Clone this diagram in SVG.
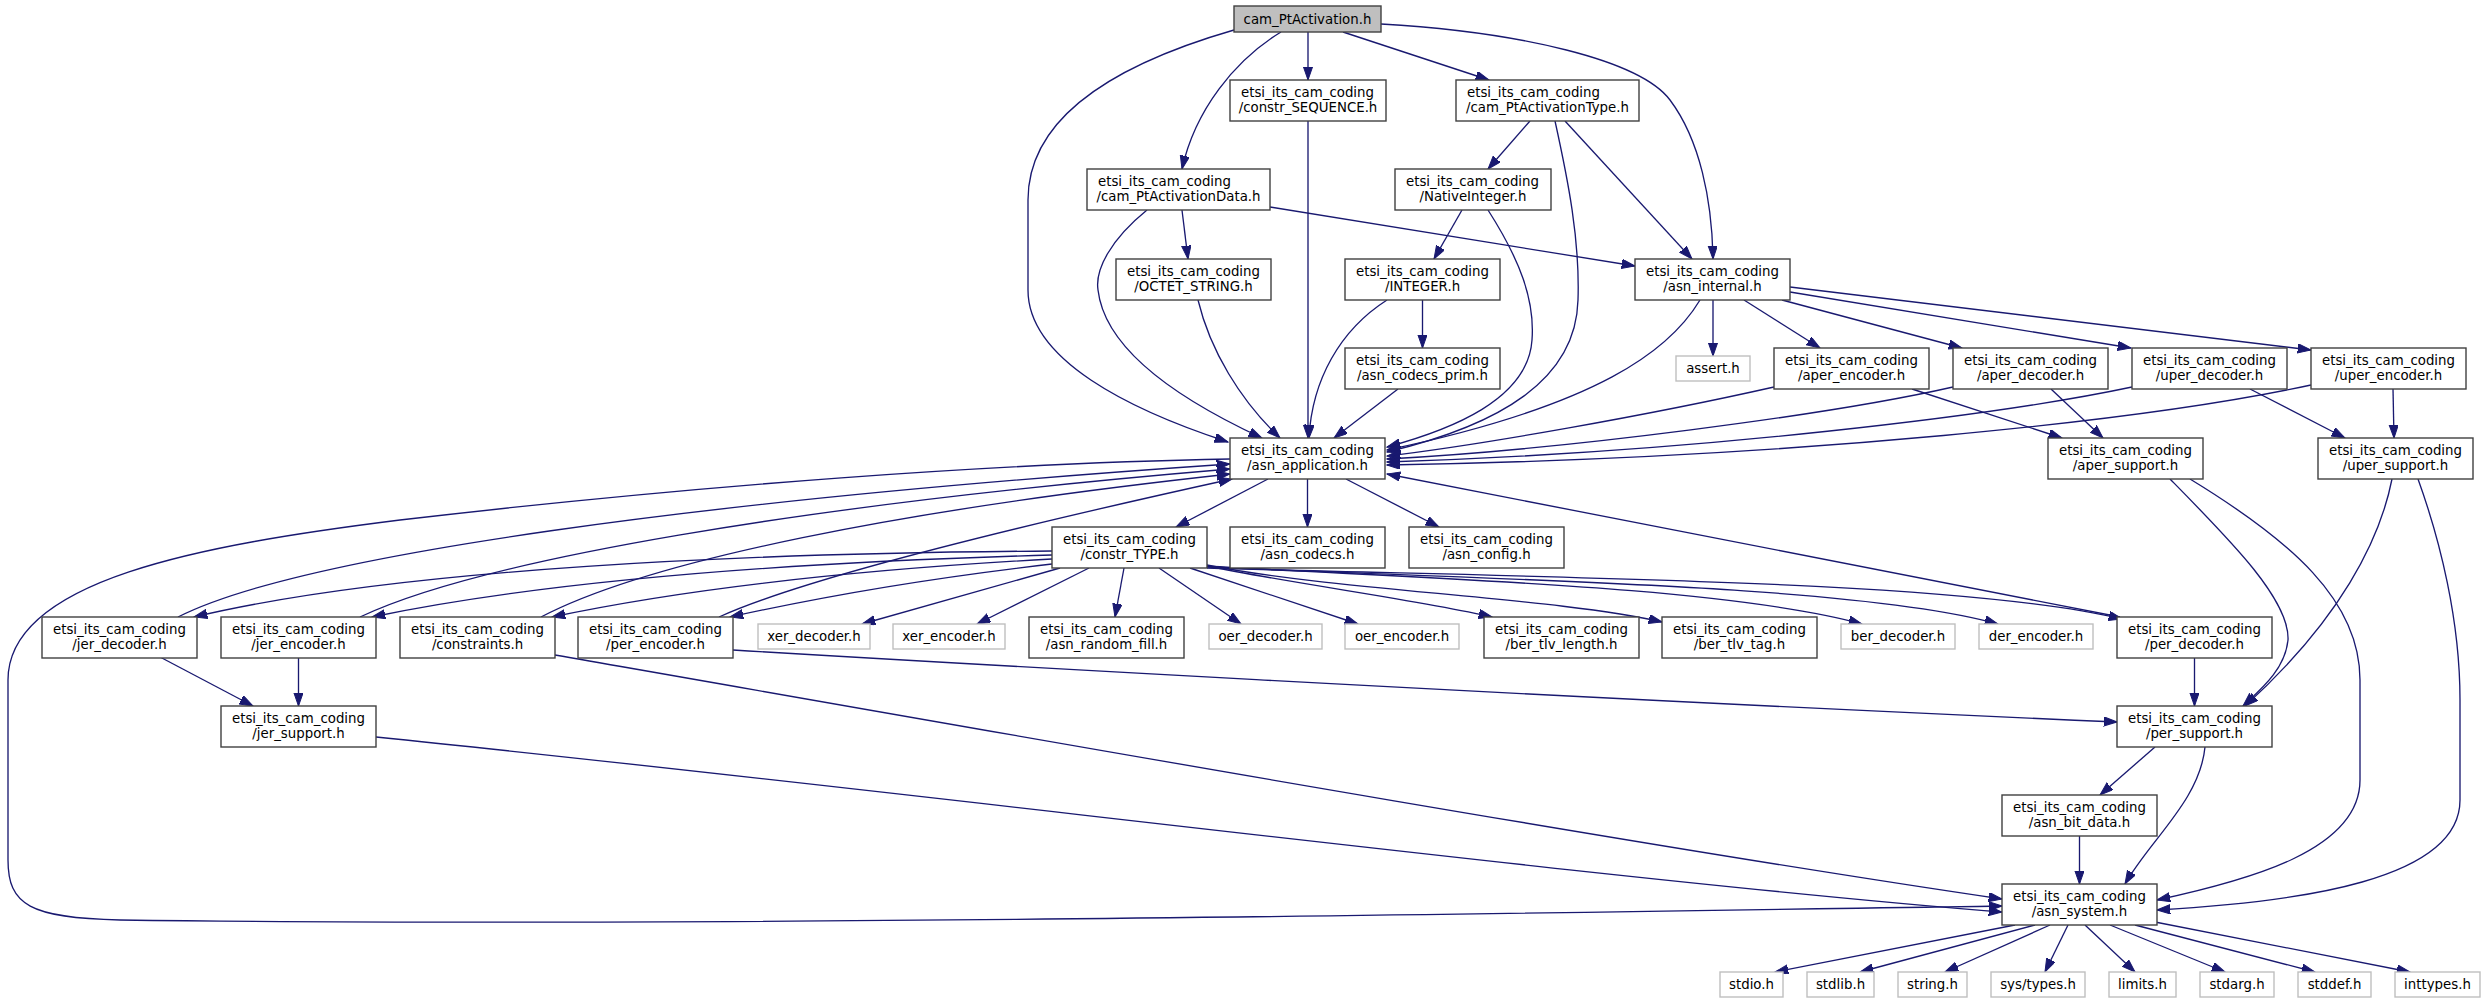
<svg xmlns="http://www.w3.org/2000/svg" width="2485" height="1005" viewBox="0 0 2485 1005">
<style>
.node rect{fill:#ffffff;stroke:#404040;stroke-width:1.4}
.node rect.root{fill:#bfbfbf}
.node rect.ext{stroke:#bfbfbf}
text{font-family:"DejaVu Sans","Liberation Sans",sans-serif;font-size:13.33px;fill:#000000}
.c{text-anchor:middle}
#edges path{fill:none;stroke:#191970;stroke-width:1.33;marker-end:url(#ah)}
</style>
<defs>
<marker id="ah" markerWidth="14" markerHeight="10" refX="13.3" refY="4.65" orient="auto" markerUnits="userSpaceOnUse"><path d="M0,0 L13.3,4.65 L0,9.3 z" fill="#191970" stroke="#191970" stroke-width="1"/></marker>
</defs>
<rect width="2485" height="1005" fill="#ffffff"/>
<g id="edges">
<path d="M1234,30 C1130,60 1028,110 1028,200 L1028,290 C1028,360 1130,410 1228,442"/>
<path d="M1281,32 C1235,60 1195,110 1182,169"/>
<path d="M1308,32 L1308,80"/>
<path d="M1343,32 L1489,80"/>
<path d="M1381,24 C1520,32 1640,60 1670,100 C1700,140 1712,200 1713,259"/>
<path d="M1308,121 L1308,438"/>
<path d="M1530,121 L1488,169"/>
<path d="M1565,121 L1692,259"/>
<path d="M1555,121 C1568,180 1580,240 1578,300 C1576,380 1500,425 1387,452"/>
<path d="M1182,210 L1188,259"/>
<path d="M1270,207 L1635,266"/>
<path d="M1147,210 C1110,240 1095,270 1098,290 C1105,350 1180,400 1262,438"/>
<path d="M1462,210 L1434,259"/>
<path d="M1488,210 C1520,260 1535,300 1532,340 C1528,400 1450,430 1387,447"/>
<path d="M1198,300 C1210,350 1240,400 1280,438"/>
<path d="M1387,300 C1340,330 1312,380 1309,438"/>
<path d="M1422.5,300 L1422.5,348"/>
<path d="M1398,389 L1334,438"/>
<path d="M1700,300 C1670,350 1600,405 1387,450"/>
<path d="M1713,300 L1713,356"/>
<path d="M1744,300 L1820,348"/>
<path d="M1782,300 L1962,348"/>
<path d="M1790,292 L2131,348"/>
<path d="M1790,287 L2311,350"/>
<path d="M1774,387 C1650,415 1480,445 1387,456"/>
<path d="M1953,387 C1830,415 1560,450 1387,459"/>
<path d="M2132,387 C2000,415 1700,452 1387,462"/>
<path d="M2311,385 C2150,420 1800,458 1387,465"/>
<path d="M1912,389 L2062,438"/>
<path d="M2051,389 L2103,438"/>
<path d="M2250,389 L2345,438"/>
<path d="M2393,389 L2394,438"/>
<path d="M1268,479 L1176,527"/>
<path d="M1307.5,479 L1307.5,527"/>
<path d="M1346,479 L1439,527"/>
<path d="M1230,459 C1000,463 700,485 400,520 C200,545 8,580 8,680 L8,860 C8,905 30,918 120,920 C700,928 1600,912 2002,906"/>
<path d="M1060,568 L862,624"/>
<path d="M1089,568 L977,624"/>
<path d="M1124,568 L1115,617"/>
<path d="M1159,568 L1241,624"/>
<path d="M1190,568 L1358,624"/>
<path d="M1207,566 C1300,585 1420,600 1492,617"/>
<path d="M1207,565 C1330,590 1560,598 1662,622"/>
<path d="M1207,566 C1400,578 1720,585 1862,624"/>
<path d="M1207,567 C1500,580 1860,585 1998,624"/>
<path d="M1207,568 C1550,578 1960,580 2122,619"/>
<path d="M1052,551 C750,553 400,568 194,617"/>
<path d="M1052,555 C800,562 550,580 372,617"/>
<path d="M1052,559 C850,570 680,590 552,617"/>
<path d="M1052,564 C930,578 820,597 730,617"/>
<path d="M178,617 C300,555 700,500 1230,464"/>
<path d="M360,617 C480,560 800,505 1230,469"/>
<path d="M541,617 C650,560 900,510 1230,474"/>
<path d="M719,617 C800,580 1000,530 1232,479"/>
<path d="M2120,617 L1387,474"/>
<path d="M160,657 L253,706"/>
<path d="M298.5,657 L298.5,706"/>
<path d="M555,655 C900,715 1600,840 2002,899"/>
<path d="M733,650 C900,660 1500,695 2117,722"/>
<path d="M2194.5,657 L2194.5,706"/>
<path d="M376,737 C900,790 1600,880 2002,912"/>
<path d="M2170,479 C2230,540 2290,600 2288,640 C2285,670 2260,690 2243,706"/>
<path d="M2392,479 C2380,540 2340,620 2245,706"/>
<path d="M2190,479 C2290,540 2360,600 2360,680 L2360,780 C2360,850 2250,880 2157,900"/>
<path d="M2418,479 C2440,540 2460,620 2460,700 L2460,800 C2460,880 2300,902 2157,910"/>
<path d="M2155,747 L2100,795"/>
<path d="M2205,747 C2200,800 2150,840 2125,884"/>
<path d="M2079.5,836 L2079.5,884"/>
<path d="M2015,925 L1775,972"/>
<path d="M2035,925 L1860,972"/>
<path d="M2050,925 L1945,972"/>
<path d="M2068,925 L2045,972"/>
<path d="M2085,925 L2135,972"/>
<path d="M2110,925 L2225,972"/>
<path d="M2135,925 L2315,972"/>
<path d="M2155,922 L2410,972"/>
</g>
<g id="n_cam_PtActivation" class="node"><rect class="root" x="1234" y="6" width="147" height="26"/><text class="c" x="1307.5" y="23.5">cam_PtActivation.h</text></g>
<g id="n_constr_SEQUENCE" class="node"><rect x="1230" y="80" width="156" height="41"/><text x="1241" y="96.5">etsi_its_cam_coding</text><text class="c" x="1308" y="111.5">/constr_SEQUENCE.h</text></g>
<g id="n_cam_PtActivationType" class="node"><rect x="1456" y="80" width="183" height="41"/><text x="1467" y="96.5">etsi_its_cam_coding</text><text class="c" x="1547.5" y="111.5">/cam_PtActivationType.h</text></g>
<g id="n_cam_PtActivationData" class="node"><rect x="1087" y="169" width="183" height="41"/><text x="1098" y="185.5">etsi_its_cam_coding</text><text class="c" x="1178.5" y="200.5">/cam_PtActivationData.h</text></g>
<g id="n_NativeInteger" class="node"><rect x="1395" y="169" width="156" height="41"/><text x="1406" y="185.5">etsi_its_cam_coding</text><text class="c" x="1473" y="200.5">/NativeInteger.h</text></g>
<g id="n_OCTET_STRING" class="node"><rect x="1116" y="259" width="155" height="41"/><text x="1127" y="275.5">etsi_its_cam_coding</text><text class="c" x="1193.5" y="290.5">/OCTET_STRING.h</text></g>
<g id="n_INTEGER" class="node"><rect x="1345" y="259" width="155" height="41"/><text x="1356" y="275.5">etsi_its_cam_coding</text><text class="c" x="1422.5" y="290.5">/INTEGER.h</text></g>
<g id="n_asn_internal" class="node"><rect x="1635" y="259" width="155" height="41"/><text x="1646" y="275.5">etsi_its_cam_coding</text><text class="c" x="1712.5" y="290.5">/asn_internal.h</text></g>
<g id="n_asn_codecs_prim" class="node"><rect x="1345" y="348" width="155" height="41"/><text x="1356" y="364.5">etsi_its_cam_coding</text><text class="c" x="1422.5" y="379.5">/asn_codecs_prim.h</text></g>
<g id="n_assert" class="node"><rect class="ext" x="1676" y="356" width="74" height="25"/><text class="c" x="1713" y="373">assert.h</text></g>
<g id="n_aper_encoder" class="node"><rect x="1774" y="348" width="155" height="41"/><text x="1785" y="364.5">etsi_its_cam_coding</text><text class="c" x="1851.5" y="379.5">/aper_encoder.h</text></g>
<g id="n_aper_decoder" class="node"><rect x="1953" y="348" width="155" height="41"/><text x="1964" y="364.5">etsi_its_cam_coding</text><text class="c" x="2030.5" y="379.5">/aper_decoder.h</text></g>
<g id="n_uper_decoder" class="node"><rect x="2132" y="348" width="155" height="41"/><text x="2143" y="364.5">etsi_its_cam_coding</text><text class="c" x="2209.5" y="379.5">/uper_decoder.h</text></g>
<g id="n_uper_encoder" class="node"><rect x="2311" y="348" width="155" height="41"/><text x="2322" y="364.5">etsi_its_cam_coding</text><text class="c" x="2388.5" y="379.5">/uper_encoder.h</text></g>
<g id="n_asn_application" class="node"><rect x="1230" y="438" width="155" height="41"/><text x="1241" y="454.5">etsi_its_cam_coding</text><text class="c" x="1307.5" y="469.5">/asn_application.h</text></g>
<g id="n_aper_support" class="node"><rect x="2048" y="438" width="155" height="41"/><text x="2059" y="454.5">etsi_its_cam_coding</text><text class="c" x="2125.5" y="469.5">/aper_support.h</text></g>
<g id="n_uper_support" class="node"><rect x="2318" y="438" width="155" height="41"/><text x="2329" y="454.5">etsi_its_cam_coding</text><text class="c" x="2395.5" y="469.5">/uper_support.h</text></g>
<g id="n_constr_TYPE" class="node"><rect x="1052" y="527" width="155" height="41"/><text x="1063" y="543.5">etsi_its_cam_coding</text><text class="c" x="1129.5" y="558.5">/constr_TYPE.h</text></g>
<g id="n_asn_codecs" class="node"><rect x="1230" y="527" width="155" height="41"/><text x="1241" y="543.5">etsi_its_cam_coding</text><text class="c" x="1307.5" y="558.5">/asn_codecs.h</text></g>
<g id="n_asn_config" class="node"><rect x="1409" y="527" width="155" height="41"/><text x="1420" y="543.5">etsi_its_cam_coding</text><text class="c" x="1486.5" y="558.5">/asn_config.h</text></g>
<g id="n_jer_decoder" class="node"><rect x="42" y="617" width="155" height="41"/><text x="53" y="633.5">etsi_its_cam_coding</text><text class="c" x="119.5" y="648.5">/jer_decoder.h</text></g>
<g id="n_jer_encoder" class="node"><rect x="221" y="617" width="155" height="41"/><text x="232" y="633.5">etsi_its_cam_coding</text><text class="c" x="298.5" y="648.5">/jer_encoder.h</text></g>
<g id="n_constraints" class="node"><rect x="400" y="617" width="155" height="41"/><text x="411" y="633.5">etsi_its_cam_coding</text><text class="c" x="477.5" y="648.5">/constraints.h</text></g>
<g id="n_per_encoder" class="node"><rect x="578" y="617" width="155" height="41"/><text x="589" y="633.5">etsi_its_cam_coding</text><text class="c" x="655.5" y="648.5">/per_encoder.h</text></g>
<g id="n_xer_decoder" class="node"><rect class="ext" x="758" y="624" width="112" height="25"/><text class="c" x="814" y="641">xer_decoder.h</text></g>
<g id="n_xer_encoder" class="node"><rect class="ext" x="893" y="624" width="112" height="25"/><text class="c" x="949" y="641">xer_encoder.h</text></g>
<g id="n_asn_random_fill" class="node"><rect x="1029" y="617" width="155" height="41"/><text x="1040" y="633.5">etsi_its_cam_coding</text><text class="c" x="1106.5" y="648.5">/asn_random_fill.h</text></g>
<g id="n_oer_decoder" class="node"><rect class="ext" x="1209" y="624" width="113" height="25"/><text class="c" x="1265.5" y="641">oer_decoder.h</text></g>
<g id="n_oer_encoder" class="node"><rect class="ext" x="1345" y="624" width="114" height="25"/><text class="c" x="1402" y="641">oer_encoder.h</text></g>
<g id="n_ber_tlv_length" class="node"><rect x="1484" y="617" width="155" height="41"/><text x="1495" y="633.5">etsi_its_cam_coding</text><text class="c" x="1561.5" y="648.5">/ber_tlv_length.h</text></g>
<g id="n_ber_tlv_tag" class="node"><rect x="1662" y="617" width="155" height="41"/><text x="1673" y="633.5">etsi_its_cam_coding</text><text class="c" x="1739.5" y="648.5">/ber_tlv_tag.h</text></g>
<g id="n_ber_decoder" class="node"><rect class="ext" x="1841" y="624" width="114" height="25"/><text class="c" x="1898" y="641">ber_decoder.h</text></g>
<g id="n_der_encoder" class="node"><rect class="ext" x="1979" y="624" width="114" height="25"/><text class="c" x="2036" y="641">der_encoder.h</text></g>
<g id="n_per_decoder" class="node"><rect x="2117" y="617" width="155" height="41"/><text x="2128" y="633.5">etsi_its_cam_coding</text><text class="c" x="2194.5" y="648.5">/per_decoder.h</text></g>
<g id="n_jer_support" class="node"><rect x="221" y="706" width="155" height="41"/><text x="232" y="722.5">etsi_its_cam_coding</text><text class="c" x="298.5" y="737.5">/jer_support.h</text></g>
<g id="n_per_support" class="node"><rect x="2117" y="706" width="155" height="41"/><text x="2128" y="722.5">etsi_its_cam_coding</text><text class="c" x="2194.5" y="737.5">/per_support.h</text></g>
<g id="n_asn_bit_data" class="node"><rect x="2002" y="795" width="155" height="41"/><text x="2013" y="811.5">etsi_its_cam_coding</text><text class="c" x="2079.5" y="826.5">/asn_bit_data.h</text></g>
<g id="n_asn_system" class="node"><rect x="2002" y="884" width="155" height="41"/><text x="2013" y="900.5">etsi_its_cam_coding</text><text class="c" x="2079.5" y="915.5">/asn_system.h</text></g>
<g id="n_stdio" class="node"><rect class="ext" x="1720" y="972" width="63" height="25"/><text class="c" x="1751.5" y="989">stdio.h</text></g>
<g id="n_stdlib" class="node"><rect class="ext" x="1807" y="972" width="67" height="25"/><text class="c" x="1840.5" y="989">stdlib.h</text></g>
<g id="n_string" class="node"><rect class="ext" x="1898" y="972" width="69" height="25"/><text class="c" x="1932.5" y="989">string.h</text></g>
<g id="n_sys_types" class="node"><rect class="ext" x="1991" y="972" width="94" height="25"/><text class="c" x="2038" y="989">sys/types.h</text></g>
<g id="n_limits" class="node"><rect class="ext" x="2109" y="972" width="67" height="25"/><text class="c" x="2142.5" y="989">limits.h</text></g>
<g id="n_stdarg" class="node"><rect class="ext" x="2200" y="972" width="74" height="25"/><text class="c" x="2237" y="989">stdarg.h</text></g>
<g id="n_stddef" class="node"><rect class="ext" x="2298" y="972" width="73" height="25"/><text class="c" x="2334.5" y="989">stddef.h</text></g>
<g id="n_inttypes" class="node"><rect class="ext" x="2395" y="972" width="85" height="25"/><text class="c" x="2437.5" y="989">inttypes.h</text></g>
</svg>
